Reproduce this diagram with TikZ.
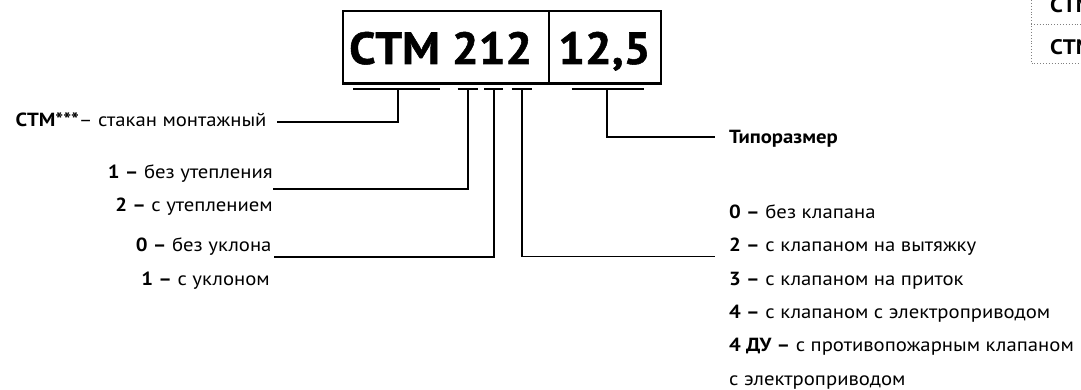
\documentclass[tikz,border=0pt]{standalone}
\usepackage{fontspec}
\setmainfont{PT Sans}[FakeStretch=1.09]
\newfontfamily\bigfont{PT Sans}[FakeStretch=1.05, BoldFeatures={FakeBold=1.2}]
\begin{document}
\begin{tikzpicture}[x=1pt,y=-1pt,
  lbl/.style={inner sep=0pt, font=\fontsize{19}{22}\selectfont},
  leftlbl/.style={lbl, anchor=base east},
  rightlbl/.style={lbl, anchor=base west},
  big/.style={inner sep=0pt, anchor=base west, font=\bigfont\fontsize{45}{50}\selectfont\bfseries},
  cell/.style={draw, line width=2.2pt, inner sep=0pt, anchor=north west, minimum height=72.5pt},
  conn/.style={line width=1.8pt},
  tbl/.style={draw=gray, line width=0.9pt, dotted},
  tbltxt/.style={inner sep=0pt, anchor=base west, font=\fontsize{21}{24}\selectfont\bfseries}
]
\useasboundingbox (0,0) rectangle (1081,390);

% main code box
\node[cell, minimum width=206pt] (codebox) at (342,10) {};
\node[cell, minimum width=112pt] (sizebox) at (548,10) {};
\node[big] (codetxt) at (349,64) {СТМ 212};
\node[big] (sizetxt) at (558,64) {12,5};

% underline segments
\coordinate (a1) at (353,89.3);   \coordinate (b1) at (440,89.3);
\coordinate (a2) at (457.7,89.3); \coordinate (b2) at (477.7,89.3);
\coordinate (a3) at (484,89.3);   \coordinate (b3) at (503.3,89.3);
\coordinate (a4) at (511.7,89.3); \coordinate (b4) at (531.7,89.3);
\coordinate (a5) at (571.7,89.3); \coordinate (b5) at (644.3,89.3);
\foreach \i in {1,...,5} {\draw[conn] (a\i) -- (b\i);}

% tap points of verticals
\coordinate (m1) at (397.7,89.3);
\coordinate (m2) at (467.7,89.3);
\coordinate (m3) at (494,89.3);
\coordinate (m4) at (521.7,89.3);
\coordinate (m5) at (606.7,89.3);

% connector ends
\coordinate (e1) at (277,121.7);
\coordinate (e2) at (273,189);
\coordinate (e3) at (274,257);
\coordinate (e4) at (715,256.5);
\coordinate (e5) at (715,137.3);

\draw[conn] (m1) |- (e1);
\draw[conn] (m2) |- (e2);
\draw[conn] (m3) |- (e3);
\draw[conn] (m4) |- (e4);
\draw[conn] (m5) |- (e5);

% left labels
\node[leftlbl] (l0) at (266.7,126.7) {\textbf{СТМ***}– стакан монтажный};
\node[leftlbl] (l1) at (273,178.3) {\textbf{1 –} без утепления};
\node[leftlbl] (l2) at (273,211.7) {\textbf{2 –} с утеплением};
\node[leftlbl] (l3) at (271.7,251.7) {\textbf{0 –} без уклона};
\node[leftlbl] (l4) at (270,285) {\textbf{1 –} с уклоном};

% right labels
\node[rightlbl] (rt) at (729,144) {\textbf{Типоразмер}};
\node[rightlbl] (r0) at (729,218.3) {\textbf{0 –} без клапана};
\node[rightlbl] (r2) at (729,251.7) {\textbf{2 –} с клапаном на вытяжку};
\node[rightlbl] (r3) at (729,285) {\textbf{3 –} с клапаном на приток};
\node[rightlbl] (r4) at (729,318.3) {\textbf{4 –} с клапаном с электроприводом};
\node[rightlbl] (r5) at (729,351.7) {\textbf{4 ДУ –} с противопожарным клапаном};
\node[rightlbl] (r6) at (729,385) {с электроприводом};

% partial table at top right
\begin{scope}
\clip (0,0) rectangle (1081,390);
\coordinate (tA) at (1031,0);
\coordinate (tB) at (1031,63.3);
\coordinate (tC) at (1031,24.3);
\coordinate (tD) at (1085,24.3);
\coordinate (tE) at (1085,63.3);
\draw[tbl] (tA) -- (tB) -- (tE);
\draw[tbl] (tC) -- (tD);
\node[tbltxt] (t1) at (1050,12.7) {СТМ};
\node[tbltxt] (t2) at (1050,55) {СТМ};
\end{scope}
\end{tikzpicture}
\end{document}
